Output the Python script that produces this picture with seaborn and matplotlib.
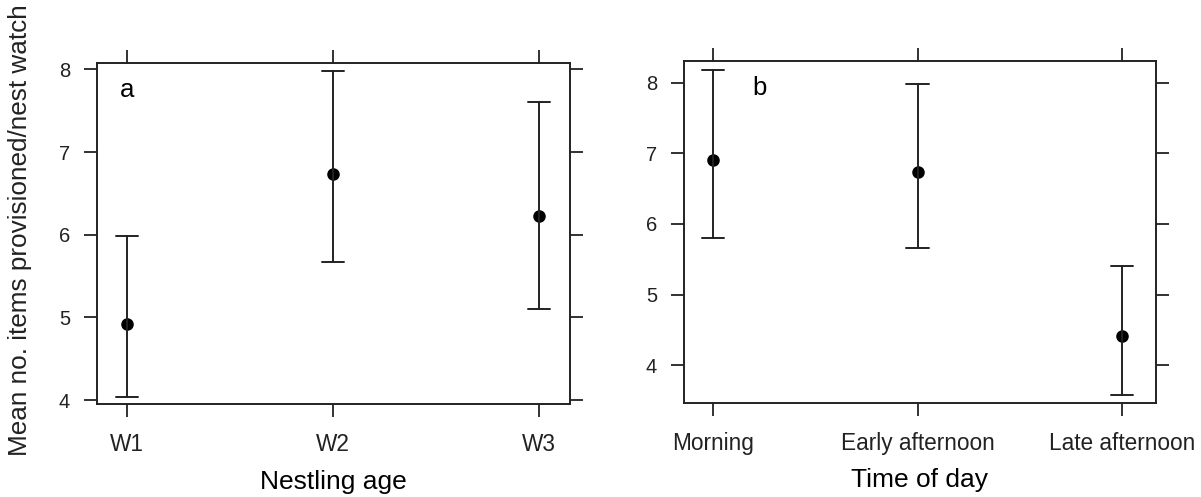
import numpy as np
import pandas as pd
import matplotlib
matplotlib.use("Agg")
import matplotlib.pyplot as plt
import seaborn as sns

# ---- data ----
age_cats = ["W1", "W2", "W3"]
age_mean = [4.92, 6.74, 6.23]
age_lo = [4.04, 5.67, 5.10]
age_hi = [5.98, 7.98, 7.60]

time_cats = ["Morning", "Early afternoon", "Late afternoon"]
time_mean = [6.90, 6.74, 4.42]
time_lo = [5.80, 5.66, 3.58]
time_hi = [8.18, 7.98, 5.40]

ylabel = "Mean no. items provisioned/nest watch"


def long_table(cats, lo, mean, hi):
    rows = []
    for c, a, m, b in zip(cats, lo, mean, hi):
        for v in (a, m, b):
            rows.append({"cat": c, "val": v})
    return pd.DataFrame(rows)


sns.set_theme(style="white")
plt.rcParams["font.family"] = ["Liberation Sans", "DejaVu Sans"]

fig = plt.figure(figsize=(12.01, 4.97), dpi=100)
ax1 = fig.add_axes([0.0808, 0.1865, 0.3938, 0.6873])
ax2 = fig.add_axes([0.5695, 0.1897, 0.3930, 0.6882])

specs = [
    (ax1, age_cats, age_lo, age_mean, age_hi, "Nestling age", "a", (0.063, 0.92),
     (3.95, 8.08), (-0.146, 2.15)),
    (ax2, time_cats, time_lo, time_mean, time_hi, "Time of day", "b", (0.161, 0.92),
     (3.47, 8.31), (-0.142, 2.166)),
]

for ax, cats, lo, mean, hi, xl, letter, lpos, ylim, xlim in specs:
    df = long_table(cats, lo, mean, hi)
    sns.pointplot(data=df, x="cat", y="val", order=cats, ax=ax,
                  estimator="median", errorbar=("pi", 100),
                  color="black", linestyle="none", markers="o",
                  markersize=7, capsize=0.11,
                  err_kws={"linewidth": 1.4, "color": "#222222"})
    ax.set_ylim(*ylim)
    ax.set_xlim(*xlim)
    ax.set_yticks([4, 5, 6, 7, 8])
    ax.set_ylabel("")
    ax.set_xlabel(xl, fontsize=19, color="black", labelpad=9.5)
    ax.tick_params(axis="both", direction="out", length=9.5, width=1.3,
                   color="#222222", top=True, right=True, bottom=True, left=True,
                   labeltop=False, labelright=False,
                   labelcolor="#222222")
    ax.tick_params(axis="x", pad=11.5, labelsize=16.3)
    ax.tick_params(axis="y", pad=10, labelsize=14.5)
    for s in ax.spines.values():
        s.set_visible(True)
        s.set_color("#222222")
        s.set_linewidth(1.4)
    ax.text(lpos[0], lpos[1], letter, transform=ax.transAxes, fontsize=18.5,
            ha="center", va="center", color="black")
    ax.grid(False)

fig.text(0.017, 0.537, ylabel, rotation=90, ha="center", va="center",
         fontsize=18.8, color="#222222")

fig.savefig("out.png", dpi=100)
